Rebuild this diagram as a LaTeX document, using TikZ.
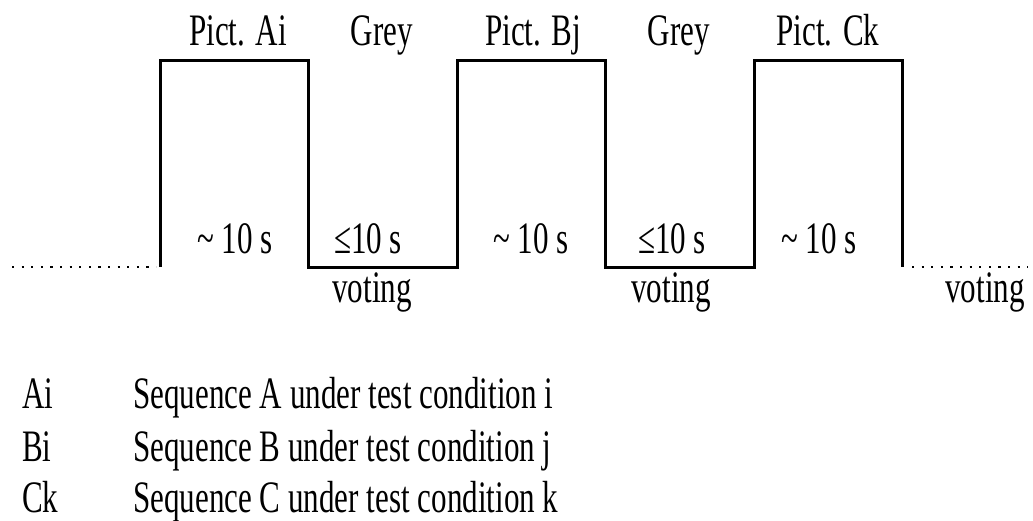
\documentclass[tikz,border=0pt]{standalone}
\usepackage{fontspec}
\setmainfont[FakeStretch=0.69]{Liberation Serif}
\begin{document}
\begin{tikzpicture}[x=1pt,y=-1pt,
  wave/.style={line width=3pt, line join=miter},
  dots/.style={line width=2.2pt, dash pattern=on 2.2pt off 7.4pt},
  lbl/.style={anchor=base, inner sep=0pt, font=\fontsize{45}{52}\selectfont},
  leg/.style={anchor=base west, inner sep=0pt, font=\fontsize{45}{52}\selectfont}]
\useasboundingbox (0,0) rectangle (1033,520);

% pulse train corners
\coordinate (a0) at (160,267);   \coordinate (a1) at (160,60);
\coordinate (a2) at (308.5,60);  \coordinate (a3) at (308.5,267);
\coordinate (b0) at (457,267);   \coordinate (b1) at (457,60);
\coordinate (b2) at (605.5,60);  \coordinate (b3) at (605.5,267);
\coordinate (c0) at (754,267);   \coordinate (c1) at (754,60);
\coordinate (c2) at (902.5,60);  \coordinate (c3) at (902.5,267);
\coordinate (ls) at (12,267);    \coordinate (le) at (156,267);
\coordinate (rs) at (912,267);   \coordinate (re) at (1028,267);

\draw[wave] (a0) -- (a1) -- (a2) -- (a3) -- (b0) -- (b1) -- (b2) -- (b3)
  -- (c0) -- (c1) -- (c2) -- (c3);
\draw[dots] (ls) -- (le);
\draw[dots] (rs) -- (re);

% labels above the pulses
\node[lbl] (tA) at (238,45) {Pict. Ai};
\node[lbl] (tG1) at (382,45) {Grey};
\node[lbl] (tB) at (533,45) {Pict. Bj};
\node[lbl] (tG2) at (679,45) {Grey};
\node[lbl] (tC) at (828,45) {Pict. Ck};

% durations
\node[lbl] (dA) at (235,253) {\textasciitilde\ 10 s};
\node[lbl] (dG1) at (368,253) {≤10 s};
\node[lbl] (dB) at (531,253) {\textasciitilde\ 10 s};
\node[lbl] (dG2) at (672,253) {≤10 s};
\node[lbl] (dC) at (819,253) {\textasciitilde\ 10 s};

% voting periods
\node[lbl] (v1) at (372,302) {voting};
\node[lbl] (v2) at (671,302) {voting};
\node[lbl, anchor=base east] (v3) at (1025,302) {voting};

% legend
\node[leg] (kA) at (22,408) {Ai};
\node[leg] (kB) at (22,461) {Bi};
\node[leg] (kC) at (22,512) {Ck};
\node[leg] (sA) at (133,408) {Sequence A under test condition i};
\node[leg] (sB) at (133,461) {Sequence B under test condition j};
\node[leg] (sC) at (133,512) {Sequence C under test condition k};
\end{tikzpicture}
\end{document}
